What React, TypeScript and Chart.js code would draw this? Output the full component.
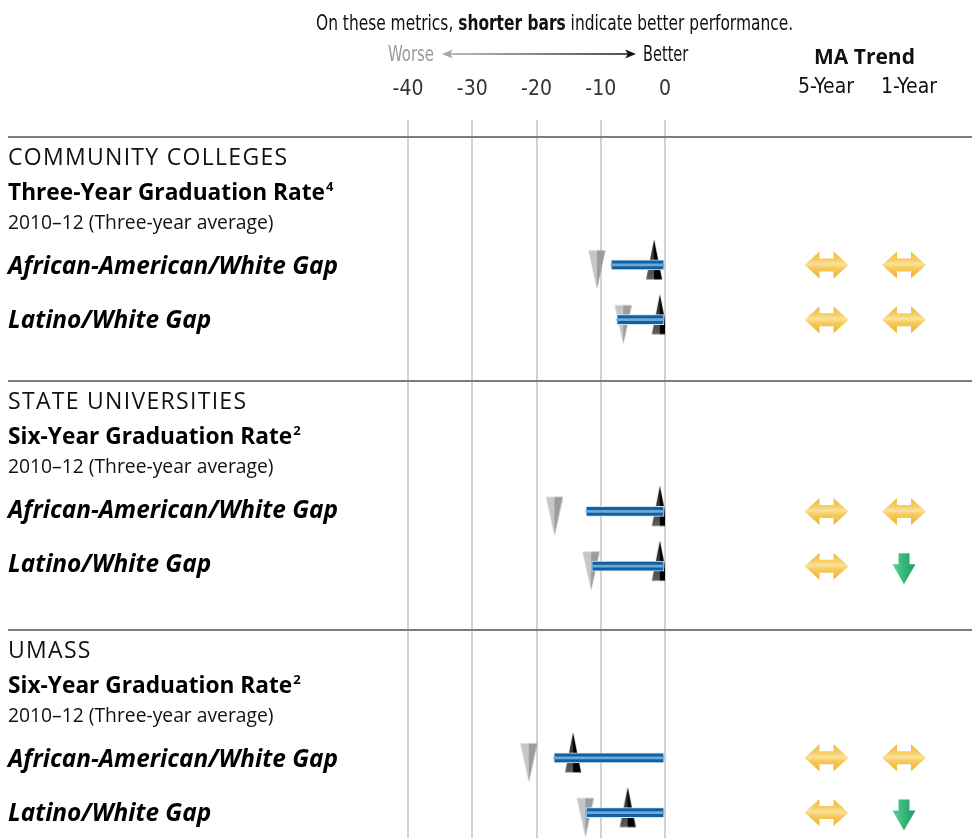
import React, { useEffect, useRef } from 'react';
import { Chart, registerables } from 'chart.js';

Chart.register(...registerables);

// ---------- data ----------
const sections = ['COMMUNITY COLLEGES', 'STATE UNIVERSITIES', 'UMASS'];
const metricNames = ['Three-Year Graduation Rate', 'Six-Year Graduation Rate', 'Six-Year Graduation Rate'];
const metricNotes = ['4', '2', '2'];
const periodLabel = '2010–12 (Three-year average)';
const gapNames = ['African-American/White Gap', 'Latino/White Gap'];

const rowKeys = [
  'Community Colleges – African-American/White Gap',
  'Community Colleges – Latino/White Gap',
  'State Universities – African-American/White Gap',
  'State Universities – Latino/White Gap',
  'UMass – African-American/White Gap',
  'UMass – Latino/White Gap',
];
const maGap = [-8.4, -7.5, -12.3, -11.4, -17.3, -12.3];
const nationalAverage = [-10.6, -6.5, -17.2, -11.5, -21.2, -12.4];
const leadingStates = [-1.7, -0.8, -0.8, -0.8, -14.3, -5.8];
const trend5Year = ['flat', 'flat', 'flat', 'flat', 'flat', 'flat'];
const trend1Year = ['flat', 'flat', 'flat', 'down', 'flat', 'down'];
const xTicks = [-40, -30, -20, -10, 0];

// category axis: spacer slots keep the sections apart
const S = '';
const yCategories = [
  S, S, S, S, S,
  rowKeys[0], S, rowKeys[1],
  S, S, S, S, S, S,
  rowKeys[2], S, rowKeys[3],
  S, S, S, S, S, S,
  rowKeys[4], S, rowKeys[5],
  S,
];

// ---------- styling ----------
const NARROW = "'Liberation Sans Narrow', 'DejaVu Sans Condensed', 'Arial Narrow', sans-serif";
const SANS = "'Open Sans', 'Noto Sans', sans-serif";

function makeMarker(kind: 'up' | 'down'): HTMLCanvasElement {
  const c = document.createElement('canvas');
  const w = 18;
  const h = 52;
  c.width = w;
  c.height = h;
  const g = c.getContext('2d')!;
  const cy = h / 2;
  if (kind === 'down') {
    const top = cy - 14.5;
    const tip = cy + 24.5;
    g.fillStyle = '#c6c6c6';
    g.beginPath(); g.moveTo(0.5, top); g.lineTo(w / 2, top); g.lineTo(w / 2, tip); g.closePath(); g.fill();
    g.fillStyle = '#9c9c9c';
    g.beginPath(); g.moveTo(w / 2, top); g.lineTo(w - 0.5, top); g.lineTo(w / 2, tip); g.closePath(); g.fill();
  } else {
    const tip = cy - 25.5;
    const base = cy + 14.5;
    const lg = g.createLinearGradient(0, tip, 0, base);
    lg.addColorStop(0, '#1a1a1a');
    lg.addColorStop(1, '#5e5e5e');
    g.fillStyle = lg;
    g.beginPath(); g.moveTo(1, base); g.lineTo(w / 2, tip); g.lineTo(w / 2, base); g.closePath(); g.fill();
    g.fillStyle = '#000';
    g.beginPath(); g.moveTo(w / 2, tip); g.lineTo(w - 1, base); g.lineTo(w / 2, base); g.closePath(); g.fill();
  }
  return c;
}

const trendPlugin = {
  id: 'trendArrows',
  afterDatasetsDraw(chart: any, _args: any, opts: any) {
    const ctx = chart.ctx as CanvasRenderingContext2D;
    const yScale = chart.scales.y;
    const cols: number[] = opts.columns;
    rowKeys.forEach((key, i) => {
      const cy = yScale.getPixelForValue(yCategories.indexOf(key));
      [trend5Year[i], trend1Year[i]].forEach((t, j) => {
        const cx = cols[j];
        ctx.save();
        if (t === 'flat') {
          const gr = ctx.createLinearGradient(0, cy - 13.5, 0, cy + 13.5);
          gr.addColorStop(0, '#f2b936');
          gr.addColorStop(0.3, '#f6cc62');
          gr.addColorStop(0.47, '#fbe19c');
          gr.addColorStop(0.62, '#f6ca5c');
          gr.addColorStop(1, '#efb02a');
          ctx.fillStyle = gr;
          ctx.beginPath();
          ctx.moveTo(cx - 22, cy);
          ctx.lineTo(cx - 7, cy - 13.5);
          ctx.lineTo(cx - 7, cy - 6.5);
          ctx.lineTo(cx + 7, cy - 6.5);
          ctx.lineTo(cx + 7, cy - 13.5);
          ctx.lineTo(cx + 22, cy);
          ctx.lineTo(cx + 7, cy + 13.5);
          ctx.lineTo(cx + 7, cy + 6.5);
          ctx.lineTo(cx - 7, cy + 6.5);
          ctx.lineTo(cx - 7, cy + 13.5);
          ctx.closePath();
          ctx.fill();
        } else {
          const top = cy - 13;
          const tip = cy + 18;
          const gr = ctx.createLinearGradient(cx - 11.5, 0, cx + 11.5, 0);
          gr.addColorStop(0, '#62cf9a');
          gr.addColorStop(0.5, '#35b679');
          gr.addColorStop(1, '#1f9e63');
          ctx.fillStyle = gr;
          ctx.beginPath();
          ctx.moveTo(cx - 5.5, top);
          ctx.lineTo(cx + 5.5, top);
          ctx.lineTo(cx + 5.5, top + 11);
          ctx.lineTo(cx + 11.5, top + 11);
          ctx.lineTo(cx, tip);
          ctx.lineTo(cx - 11.5, top + 11);
          ctx.lineTo(cx - 5.5, top + 11);
          ctx.closePath();
          ctx.fill();
        }
        ctx.restore();
      });
    });
  },
};

export default function App() {
  const ref = useRef<HTMLCanvasElement>(null);

  useEffect(() => {
    const canvas = ref.current!;
    const down = makeMarker('down');
    const up = makeMarker('up');
    const barPoints = rowKeys.map((k, i) => ({ x: maGap[i], y: k }));
    const chart = new Chart(canvas, {
      type: 'bar',
      data: {
        labels: yCategories,
        datasets: [
          {
            type: 'bar',
            label: 'Massachusetts gap (stripe)',
            data: barPoints,
            backgroundColor: '#6aa9de',
            borderWidth: 0,
            barThickness: 2,
            grouped: false,
            order: 0,
          } as any,
          {
            type: 'bar',
            label: 'Massachusetts gap',
            data: barPoints,
            backgroundColor: '#12609f',
            borderColor: '#d3e6f5',
            borderWidth: 1,
            borderSkipped: false,
            barThickness: 10,
            grouped: false,
            order: 1,
          } as any,
          {
            type: 'scatter',
            label: 'Leading states',
            data: rowKeys.map((k, i) => ({ x: leadingStates[i], y: k })),
            pointStyle: up,
            pointRadius: 5,
            order: 2,
          } as any,
          {
            type: 'scatter',
            label: 'National average',
            data: rowKeys.map((k, i) => ({ x: nationalAverage[i], y: k })),
            pointStyle: down,
            pointRadius: 5,
            order: 3,
          } as any,
        ],
      },
      options: {
        indexAxis: 'y',
        responsive: false,
        animation: false,
        devicePixelRatio: 1,
        layout: { autoPadding: false, padding: { left: 408, right: 307, top: 0, bottom: 0 } },
        plugins: {
          legend: { display: false },
          tooltip: { enabled: false },
          trendArrows: { columns: [826.5, 904] },
        } as any,
        scales: {
          x: {
            type: 'linear',
            position: 'top',
            min: -40,
            max: 0,
            afterBuildTicks: (s: any) => { s.ticks = xTicks.map((v) => ({ value: v })); },
            afterFit: (s: any) => { s.height = 128; },
            ticks: {
              color: '#333',
              padding: 18,
              font: { family: NARROW, size: 21 },
              callback: (v: any) => String(v),
            },
            grid: { color: '#d2d2d2', lineWidth: 2, drawTicks: true, tickLength: 8, tickColor: '#d2d2d2' },
            border: { display: false },
          },
          y: {
            type: 'category',
            offset: false,
            display: false,
            grid: { display: false },
          },
        },
      } as any,
      plugins: [trendPlugin],
    });
    return () => chart.destroy();
  }, []);

  const sectionTops = [137, 381, 630];
  const lineOffsets = [19, 55, 85, 128, 182];
  const abs = (top: number, left: number, extra: React.CSSProperties = {}): React.CSSProperties => ({
    position: 'absolute', top, left, whiteSpace: 'nowrap', ...extra,
  });
  const squeeze = (k: number): React.CSSProperties => ({ transform: `scaleX(${k})`, transformOrigin: '0 50%' });

  return (
    <div style={{ position: 'relative', width: 972, height: 838, overflow: 'hidden', background: '#fff' }}>
      <style>{'body{margin:0}'}</style>
      <canvas ref={ref} width={972} height={840} style={{ position: 'absolute', left: 0, top: 0 }} />

      {/* header */}
      <div style={abs(8, 316, { font: `22px ${NARROW}`, lineHeight: '30px', color: '#111', ...squeeze(0.78) })}>
        On these metrics, <b>shorter bars</b> indicate better performance.
      </div>
      <div style={abs(39, 388, { font: `21px ${NARROW}`, lineHeight: '30px', color: '#9a9a9a', ...squeeze(0.79) })}>Worse</div>
      <svg style={{ position: 'absolute', left: 436, top: 46 }} width={206} height={16}>
        <defs>
          <linearGradient id="wb" gradientUnits="userSpaceOnUse" x1="8" x2="196" y1="8" y2="8">
            <stop offset="0" stopColor="#a8a8a8" />
            <stop offset="1" stopColor="#111" />
          </linearGradient>
        </defs>
        <line x1={10} y1={8} x2={194} y2={8} stroke="url(#wb)" strokeWidth={1.5} />
        <path d="M6 8 L17 3.5 L14 8 L17 12.5 Z" fill="#a8a8a8" />
        <path d="M200 8 L189 3.5 L192 8 L189 12.5 Z" fill="#111" />
      </svg>
      <div style={abs(39, 643, { font: `21px ${NARROW}`, lineHeight: '30px', color: '#111', ...squeeze(0.77) })}>Better</div>
      <div style={abs(42, 814, { font: `bold 21px ${SANS}`, lineHeight: '28px', color: '#111' })}>MA Trend</div>
      <div style={abs(72, 798, { font: `21px ${NARROW}`, lineHeight: '28px', color: '#111' })}>5-Year</div>
      <div style={abs(72, 881, { font: `21px ${NARROW}`, lineHeight: '28px', color: '#111' })}>1-Year</div>

      {sectionTops.map((t, s) => (
        <React.Fragment key={s}>
          <div style={{ position: 'absolute', left: 8, right: 0, top: t - 1, height: 2, background: '#7c7c7c' }} />
          <div style={abs(t + lineOffsets[0] - 16, 8, { font: `23px ${SANS}`, letterSpacing: '1.3px', lineHeight: '32px', color: '#111' })}>{sections[s]}</div>
          <div style={abs(t + lineOffsets[1] - 16, 8, { font: `bold 22.7px ${SANS}`, lineHeight: '32px', color: '#000' })}>
            {metricNames[s]}
            <sup style={{ fontSize: 13, lineHeight: 1, verticalAlign: 'baseline', position: 'relative', top: -9, marginLeft: 1 }}>{metricNotes[s]}</sup>
          </div>
          <div style={abs(t + lineOffsets[2] - 14, 8, { font: `19.3px ${SANS}`, lineHeight: '28px', color: '#111' })}>{periodLabel}</div>
          <div style={abs(t + lineOffsets[3] - 17, 8, { font: `italic bold 24.4px ${SANS}`, lineHeight: '34px', color: '#000' })}>{gapNames[0]}</div>
          <div style={abs(t + lineOffsets[4] - 17, 8, { font: `italic bold 24.4px ${SANS}`, lineHeight: '34px', color: '#000' })}>{gapNames[1]}</div>
        </React.Fragment>
      ))}
    </div>
  );
}
